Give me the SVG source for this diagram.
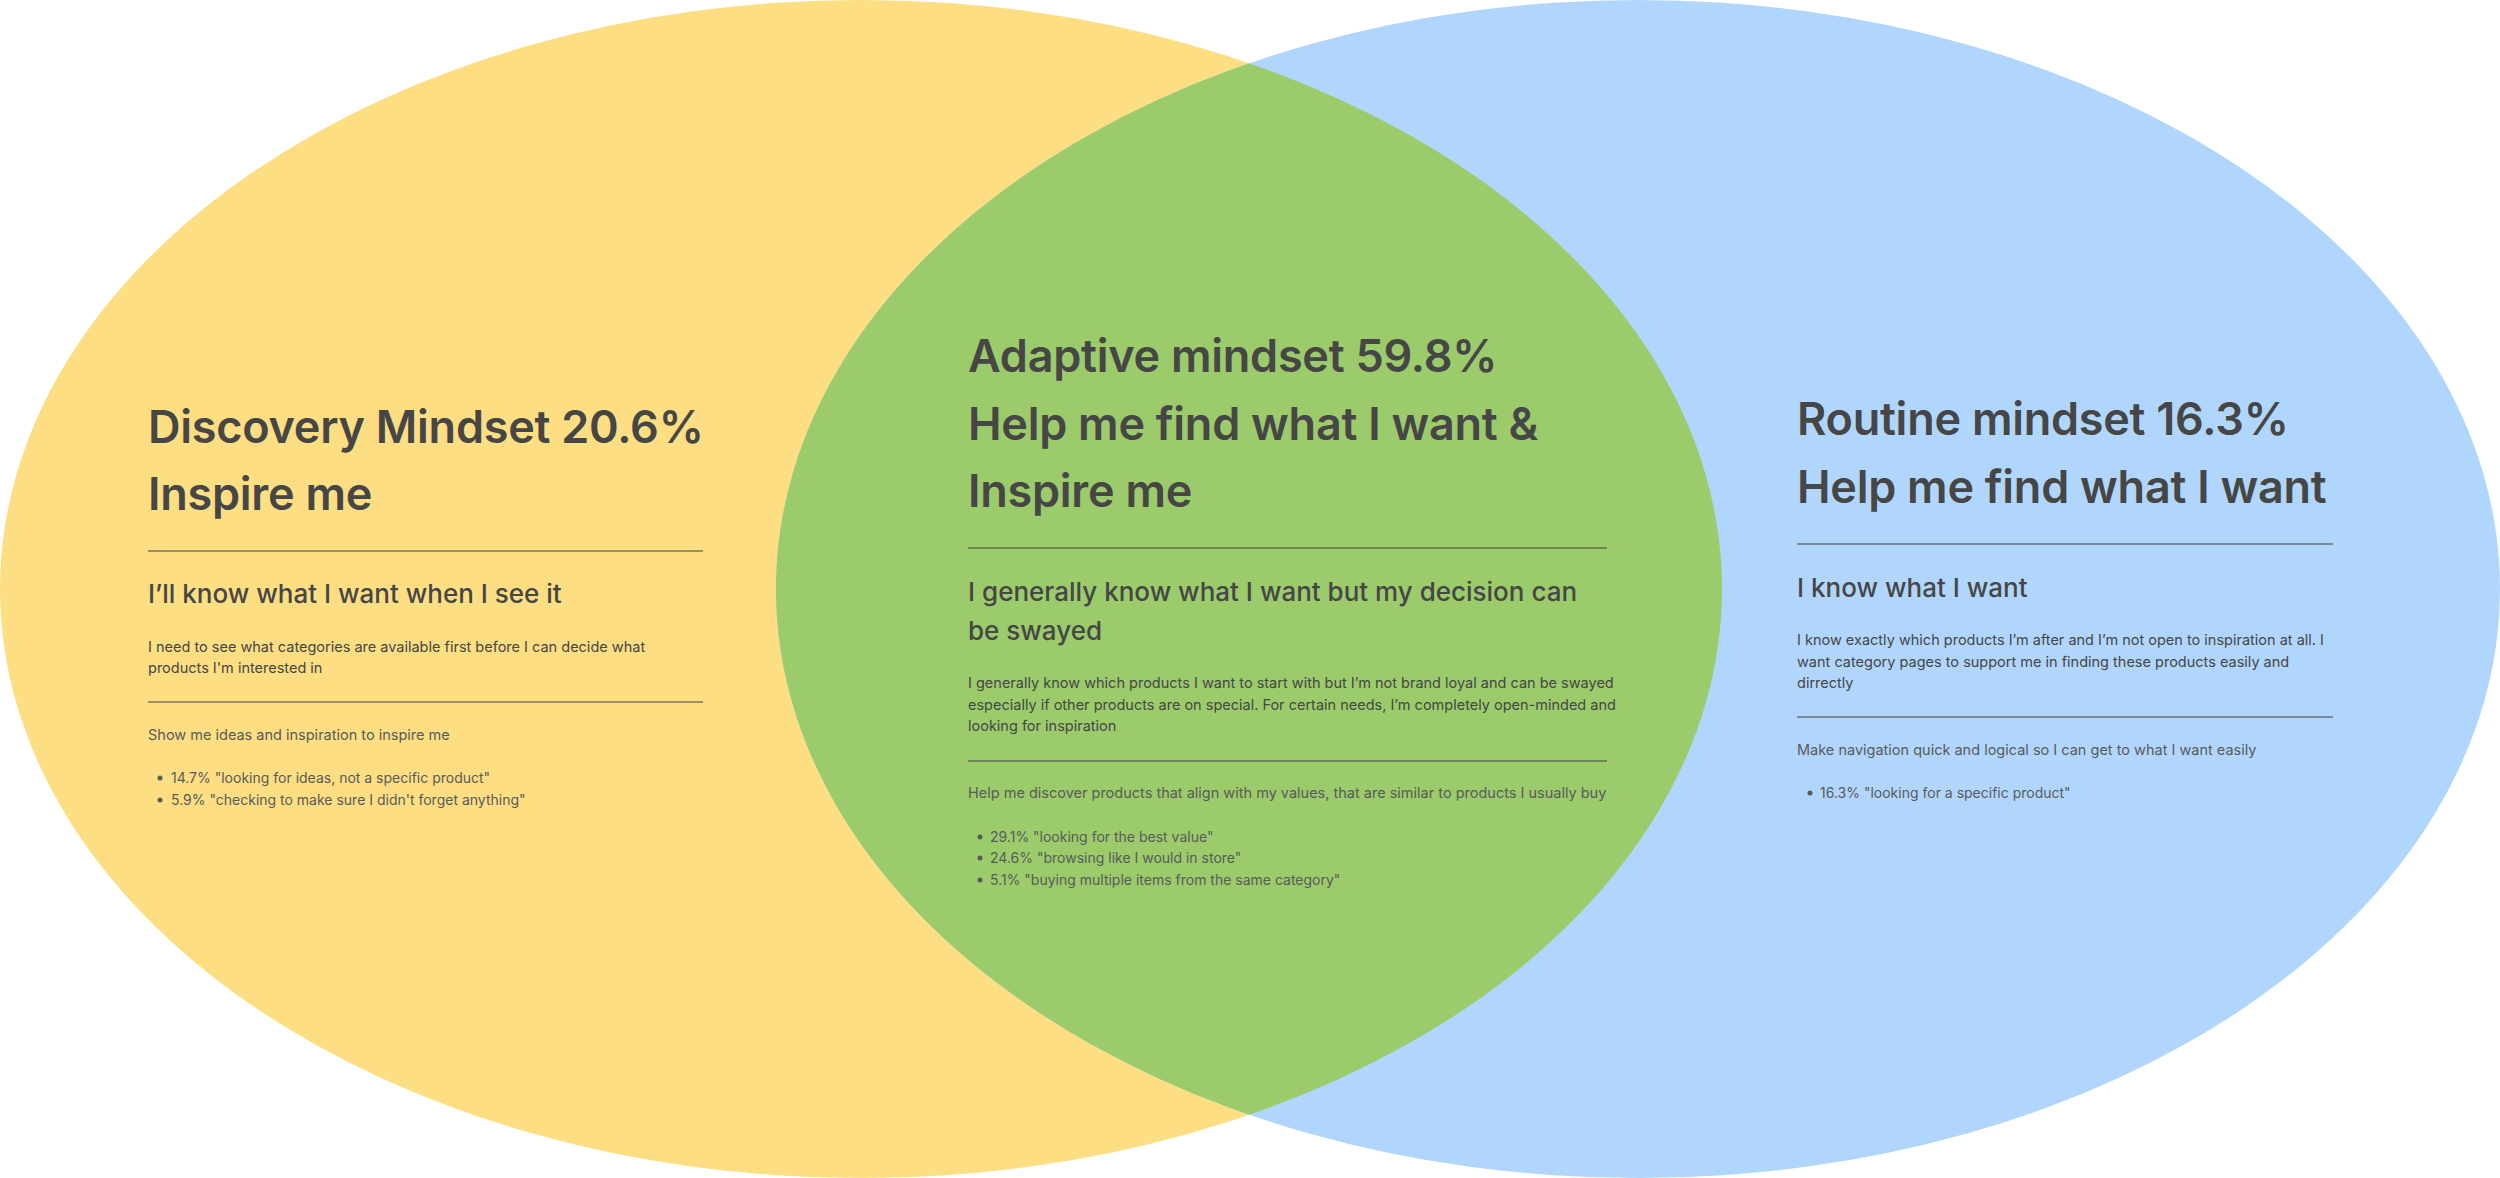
<svg xmlns="http://www.w3.org/2000/svg" width="2500" height="1178" viewBox="0 0 2500 1178">
<style>
text{font-family:Inter,"Noto Sans","Liberation Sans",sans-serif;fill:#464646}
.t{font-size:45px;font-weight:600;letter-spacing:-0.25px}
.s{font-size:26px;font-weight:500}
.b{font-size:14.5px;font-weight:400}
.l{font-size:14.5px;font-weight:400;fill:#5a5a5a}
.u{font-size:14px;font-weight:400;fill:#5a5a5a}
.d{stroke:#4a4a4a;stroke-opacity:0.55;stroke-width:2}
</style>
<defs>
<clipPath id="clipL"><ellipse cx="861" cy="589" rx="861" ry="589"/></clipPath>
</defs>
<g id="discovery-circle"><ellipse cx="861" cy="589" rx="861" ry="589" fill="#FDDE83"/></g>
<g id="routine-circle"><ellipse cx="1638" cy="589" rx="862" ry="589" fill="#B0D6FD"/></g>
<g id="adaptive-overlap"><ellipse cx="1638" cy="589" rx="862" ry="589" fill="#9BCB6B" clip-path="url(#clipL)"/></g>
<g id="connectors"></g>
<g id="discovery">
<text class="t" x="148" y="443">Discovery Mindset 20.6%</text>
<text class="t" x="148" y="510">Inspire me</text>
<line class="d" x1="148" y1="551" x2="703" y2="551"/>
<text class="s" x="148" y="603">I’ll know what I want when I see it</text>
<text class="b" x="148" y="652">I need to see what categories are available first before I can decide what</text>
<text class="b" x="148" y="673">products I'm interested in</text>
<line class="d" x1="148" y1="702" x2="703" y2="702"/>
<text class="l" x="148" y="740">Show me ideas and inspiration to inspire me</text>
<circle cx="160" cy="778" r="2.5" fill="#5a5a5a"/>
<text class="u" x="171" y="783">14.7% "looking for ideas, not a specific product"</text>
<circle cx="160" cy="800" r="2.5" fill="#5a5a5a"/>
<text class="u" x="171" y="805">5.9% "checking to make sure I didn't forget anything"</text>
</g>
<g id="adaptive">
<text class="t" x="968" y="372">Adaptive mindset 59.8%</text>
<text class="t" x="968" y="440">Help me find what I want &amp;</text>
<text class="t" x="968" y="507">Inspire me</text>
<line class="d" x1="968" y1="548" x2="1607" y2="548"/>
<text class="s" x="968" y="601">I generally know what I want but my decision can</text>
<text class="s" x="968" y="640">be swayed</text>
<text class="b" x="968" y="688">I generally know which products I want to start with but I’m not brand loyal and can be swayed</text>
<text class="b" x="968" y="710">especially if other products are on special. For certain needs, I’m completely open-minded and</text>
<text class="b" x="968" y="731">looking for inspiration</text>
<line class="d" x1="968" y1="761" x2="1607" y2="761"/>
<text class="l" x="968" y="798">Help me discover products that align with my values, that are similar to products I usually buy</text>
<circle cx="980" cy="837" r="2.5" fill="#5a5a5a"/>
<text class="u" x="990" y="842">29.1% "looking for the best value"</text>
<circle cx="980" cy="858" r="2.5" fill="#5a5a5a"/>
<text class="u" x="990" y="863">24.6% "browsing like I would in store"</text>
<circle cx="980" cy="880" r="2.5" fill="#5a5a5a"/>
<text class="u" x="990" y="885">5.1% "buying multiple items from the same category"</text>
</g>
<g id="routine">
<text class="t" x="1797" y="435">Routine mindset 16.3%</text>
<text class="t" x="1797" y="503">Help me find what I want</text>
<line class="d" x1="1797" y1="544" x2="2333" y2="544"/>
<text class="s" x="1797" y="597">I know what I want</text>
<text class="b" x="1797" y="645">I know exactly which products I’m after and I’m not open to inspiration at all. I</text>
<text class="b" x="1797" y="667">want category pages to support me in finding these products easily and</text>
<text class="b" x="1797" y="688">dirrectly</text>
<line class="d" x1="1797" y1="717" x2="2333" y2="717"/>
<text class="l" x="1797" y="755">Make navigation quick and logical so I can get to what I want easily</text>
<circle cx="1810" cy="793" r="2.5" fill="#5a5a5a"/>
<text class="u" x="1820" y="798">16.3% "looking for a specific product"</text>
</g>
</svg>
